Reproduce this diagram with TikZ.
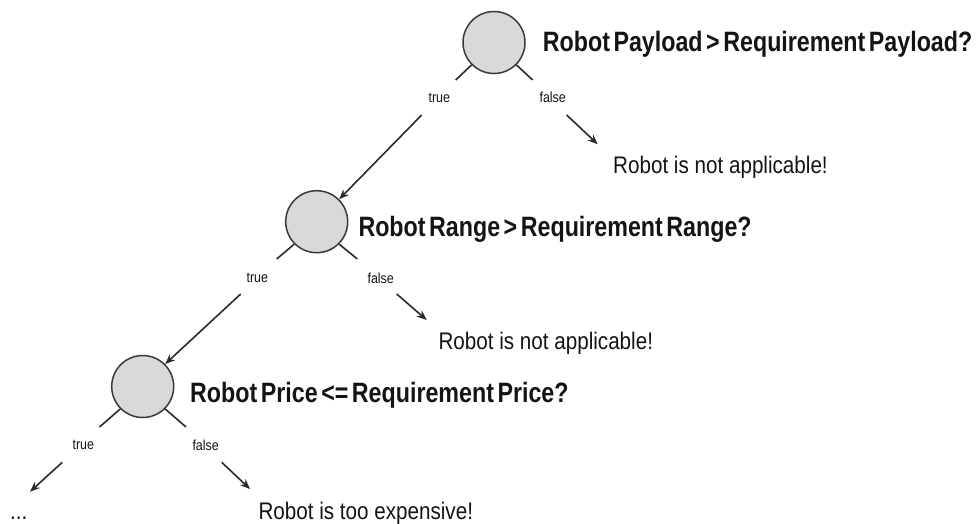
\documentclass[tikz,border=0pt]{standalone}
\usepackage{fontspec}
\usetikzlibrary{arrows.meta}
\newfontfamily\titlefont[FakeStretch=0.83,WordSpace=0.55]{Liberation Sans Bold}
\newfontfamily\plainfont[FakeStretch=0.86]{Liberation Sans}
\definecolor{nodefill}{HTML}{D9D9D9}
\definecolor{nodeline}{HTML}{3A3A3A}
\definecolor{ink}{HTML}{2A2A2A}
\definecolor{txt}{HTML}{141414}
\tikzset{
  decision/.style={circle, draw=nodeline, fill=nodefill, line width=1.5pt,
    minimum size=62pt, inner sep=0pt},
  question/.style={anchor=base west, inner sep=0pt, text=txt,
    font=\titlefont\fontsize{28}{32}\selectfont},
  outcome/.style={anchor=base west, inner sep=0pt, text=txt,
    font=\plainfont\fontsize{24}{28}\selectfont},
  branch/.style={inner sep=0pt, text=txt, font=\plainfont\fontsize{14.5}{16}\selectfont},
  stub/.style={draw=ink, line width=1.6pt},
  arr/.style={draw=ink, line width=1.6pt, -{Stealth[length=10pt,width=8pt]}}
}
\begin{document}
\begin{tikzpicture}[x=1pt,y=-1pt]
\useasboundingbox (0,0) rectangle (977,523);

% decision nodes
\node[decision] (c1) at (494,42.5) {};
\node[decision] (c2) at (316.7,221.7) {};
\node[decision] (c3) at (142.7,386.5) {};

% questions
\node[question] (q1) at (542.7,51.2) {Robot Payload > Requirement Payload?};
\node[question] (q2) at (358.3,236.2) {Robot Range > Requirement Range?};
\node[question] (q3) at (190,402.8) {Robot Price <= Requirement Price?};

% outcomes
\node[outcome] (o1) at (613,173) {Robot is not applicable!};
\node[outcome] (o2) at (438.3,349.7) {Robot is not applicable!};
\node[outcome] (o3) at (258.3,519) {Robot is too expensive!};
\node[outcome] (more) at (10,519) {...};

% branch labels
\node[branch] (t1) at (439.3,97.7) {true};
\node[branch] (f1) at (552.7,97.7) {false};
\node[branch] (t2) at (257.3,278.3) {true};
\node[branch] (f2) at (380.7,278.3) {false};
\node[branch] (t3) at (83.3,445) {true};
\node[branch] (f3) at (205.7,445) {false};

% stub ends and arrow start points
\coordinate (s1l) at (455.7,80);   \coordinate (s1r) at (532.7,80);
\coordinate (s2l) at (276.7,259);  \coordinate (s2r) at (357.3,259);
\coordinate (s3l) at (99.5,427);   \coordinate (s3r) at (186,427);
\coordinate (a1t) at (421.7,115);  \coordinate (a1f) at (566.7,115);
\coordinate (a2t) at (240.7,294);  \coordinate (a2f) at (396.7,294);
\coordinate (a3t) at (62.3,462.3); \coordinate (a3f) at (221.7,462.3);
\coordinate (e1f) at (597.7,144.3);
\coordinate (e2f) at (426.7,320);
\coordinate (e3t) at (30,491.7);
\coordinate (e3f) at (250,489);

% stubs leaving the decision nodes
\draw[stub] (c1.225) -- (s1l);
\draw[stub] (c1.315) -- (s1r);
\draw[stub] (c2.225) -- (s2l);
\draw[stub] (c2.315) -- (s2r);
\draw[stub] (c3.225) -- (s3l);
\draw[stub] (c3.315) -- (s3r);

% branch arrows
\draw[arr] (a1t) -- (c2.45);
\draw[arr] (a2t) -- (c3.45);
\draw[arr] (a3t) -- (e3t);
\draw[arr] (a1f) -- (e1f);
\draw[arr] (a2f) -- (e2f);
\draw[arr] (a3f) -- (e3f);
\end{tikzpicture}
\end{document}
